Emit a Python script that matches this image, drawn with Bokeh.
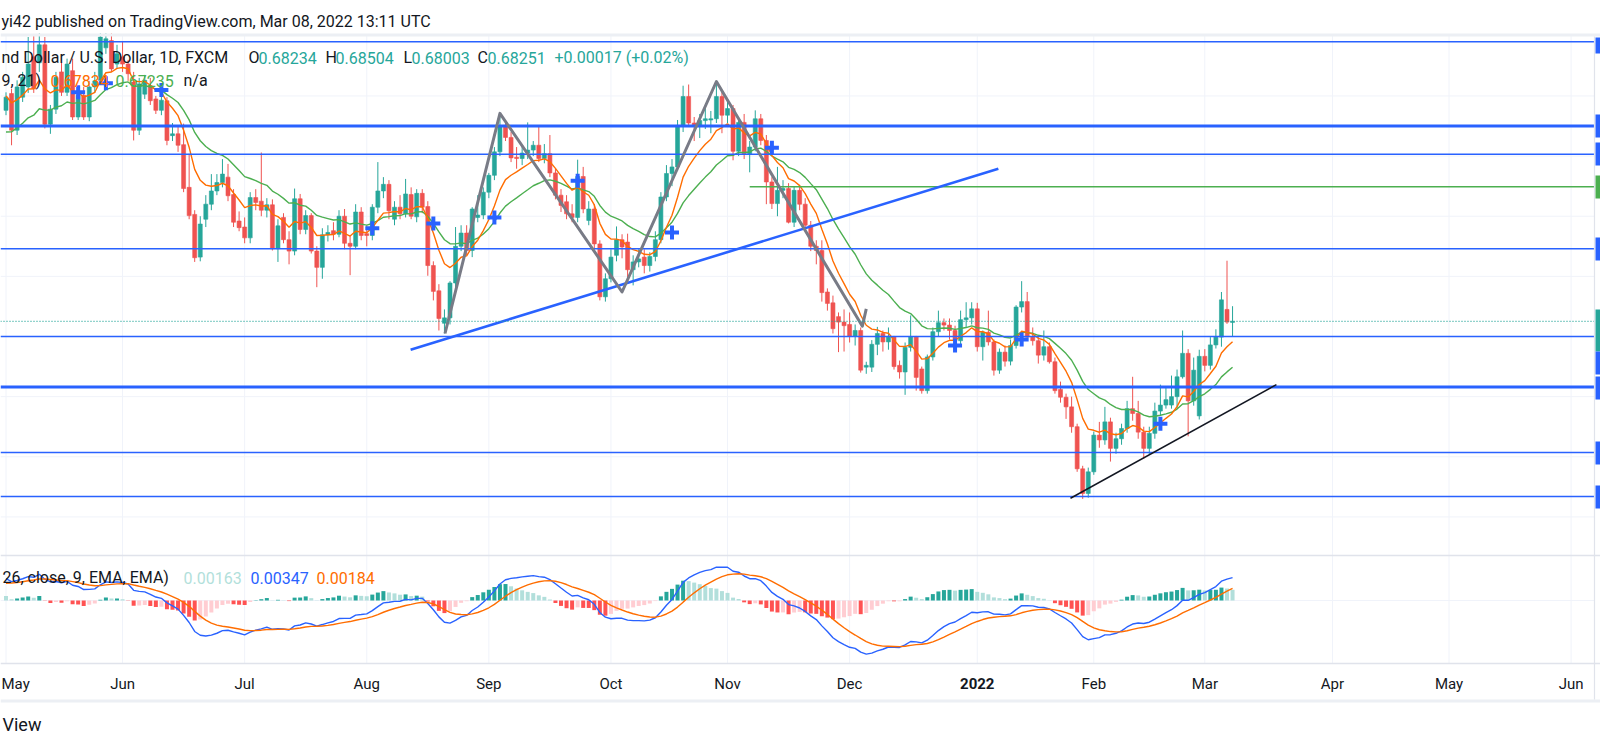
import numpy as np
import pandas as pd
from bokeh.plotting import figure
from bokeh.models import Range1d, ColumnDataSource
from bokeh.core.properties import value
from bokeh.embed import file_html
from bokeh.resources import INLINE

# ---------------- data: NZD/USD daily (FXCM) ----------------
first_day = "2021-05-03"
opens = [
    0.7176, 0.7204, 0.7143, 0.7198, 0.7215, 0.7265, 0.7255, 0.7285, 0.7153, 0.7178,
    0.7240, 0.7206, 0.7242, 0.7165, 0.7201, 0.7165, 0.7215, 0.7226, 0.7280, 0.7292,
    0.7253, 0.7265, 0.7253, 0.7223, 0.7143, 0.7203, 0.7217, 0.7195, 0.7176, 0.7192,
    0.7134, 0.7137, 0.7119, 0.7048, 0.7003, 0.6932, 0.6995, 0.7020, 0.7042, 0.7056,
    0.7065, 0.7036, 0.6992, 0.6982, 0.6964, 0.7031, 0.7025, 0.7010, 0.7019, 0.6946,
    0.6998, 0.6961, 0.6942, 0.7029, 0.6978, 0.7001, 0.6942, 0.6915, 0.6969, 0.6976,
    0.6970, 0.7000, 0.6955, 0.6950, 0.7007, 0.6971, 0.6968, 0.7015, 0.7042, 0.7053,
    0.6995, 0.7015, 0.7004, 0.7036, 0.6999, 0.7038, 0.7016, 0.6918, 0.6876, 0.6822,
    0.6831, 0.6889, 0.6950, 0.6972, 0.6943, 0.6998, 0.7002, 0.7040, 0.7068, 0.7107,
    0.7151, 0.7131, 0.7098, 0.7096, 0.7105, 0.7110, 0.7118, 0.7096, 0.7104, 0.7072,
    0.7035, 0.7024, 0.7004, 0.6998, 0.7066, 0.6993, 0.7012, 0.6954, 0.6866, 0.6896,
    0.6935, 0.6961, 0.6957, 0.6911, 0.6924, 0.6932, 0.6918, 0.6933, 0.6961, 0.7032,
    0.7071, 0.7082, 0.7151, 0.7199, 0.7155, 0.7151, 0.7159, 0.7160, 0.7162, 0.7199,
    0.7168, 0.7179, 0.7108, 0.7156, 0.7104, 0.7115, 0.7162, 0.7126, 0.7057, 0.7021,
    0.7043, 0.7046, 0.6990, 0.7043, 0.7020, 0.6985, 0.6950, 0.6943, 0.6874, 0.6856,
    0.6833, 0.6824, 0.6820, 0.6800, 0.6810, 0.6749, 0.6749, 0.6787, 0.6805, 0.6791,
    0.6799, 0.6752, 0.6741, 0.6782, 0.6799, 0.6746, 0.6710, 0.6766, 0.6808, 0.6823,
    0.6819, 0.6810, 0.6793, 0.6828, 0.6831, 0.6846, 0.6783, 0.6807, 0.6791, 0.6744,
    0.6774, 0.6759, 0.6785, 0.6849, 0.6858, 0.6799, 0.6793, 0.6769, 0.6783, 0.6758,
    0.6712, 0.6699, 0.6683, 0.6650, 0.6580, 0.6539, 0.6575, 0.6636, 0.6628, 0.6658,
    0.6614, 0.6630, 0.6647, 0.6680, 0.6672, 0.6641, 0.6614, 0.6639, 0.6676, 0.6686,
    0.6686, 0.6700, 0.6733, 0.6772, 0.6693, 0.6668, 0.6767, 0.6752, 0.6786, 0.6799,
    0.6845, 0.68234]
highs = [
    0.7206, 0.7212, 0.7226, 0.7240, 0.7298, 0.7300, 0.7305, 0.7298, 0.7185, 0.7240,
    0.7255, 0.7262, 0.7262, 0.7210, 0.7215, 0.7225, 0.7240, 0.7309, 0.7305, 0.7310,
    0.7285, 0.7290, 0.7260, 0.7240, 0.7230, 0.7235, 0.7230, 0.7200, 0.7220, 0.7198,
    0.7155, 0.7150, 0.7154, 0.7104, 0.7010, 0.7000, 0.7035, 0.7070, 0.7070, 0.7095,
    0.7087, 0.7045, 0.7008, 0.6998, 0.7040, 0.7045, 0.7106, 0.7030, 0.7028, 0.6995,
    0.7005, 0.6975, 0.7046, 0.7037, 0.7010, 0.7005, 0.6950, 0.6980, 0.6985, 0.6990,
    0.7010, 0.7012, 0.6968, 0.7020, 0.7015, 0.6985, 0.7020, 0.7090, 0.7065, 0.7060,
    0.7025, 0.7035, 0.7062, 0.7048, 0.7045, 0.7045, 0.7025, 0.6925, 0.6887, 0.6845,
    0.6892, 0.6982, 0.6985, 0.6985, 0.7015, 0.7035, 0.7048, 0.7072, 0.7115, 0.7171,
    0.7160, 0.7140, 0.7115, 0.7115, 0.7156, 0.7125, 0.7149, 0.7120, 0.7135, 0.7080,
    0.7045, 0.7035, 0.7020, 0.7094, 0.7082, 0.7025, 0.7020, 0.6960, 0.6905, 0.6945,
    0.6983, 0.6970, 0.6971, 0.6935, 0.6945, 0.6945, 0.6940, 0.6975, 0.7040, 0.7085,
    0.7095, 0.7160, 0.7217, 0.7219, 0.7165, 0.7170, 0.7180, 0.7175, 0.7224, 0.7210,
    0.7190, 0.7185, 0.7165, 0.7170, 0.7125, 0.7176, 0.7170, 0.7135, 0.7065, 0.7082,
    0.7060, 0.7055, 0.7050, 0.7052, 0.7030, 0.6992, 0.6960, 0.6960, 0.6880, 0.6868,
    0.6840, 0.6845, 0.6840, 0.6820, 0.6815, 0.6758, 0.6794, 0.6816, 0.6810, 0.6815,
    0.6801, 0.6760, 0.6790, 0.6835, 0.6801, 0.6750, 0.6770, 0.6815, 0.6843, 0.6830,
    0.6830, 0.6818, 0.6843, 0.6857, 0.6857, 0.6856, 0.6810, 0.6843, 0.6795, 0.6780,
    0.6785, 0.6795, 0.6852, 0.6892, 0.6874, 0.6815, 0.6800, 0.6810, 0.6790, 0.6765,
    0.6725, 0.6705, 0.6700, 0.6655, 0.6585, 0.6582, 0.6642, 0.6658, 0.6683, 0.6665,
    0.6640, 0.6655, 0.6693, 0.6733, 0.6693, 0.6650, 0.6650, 0.6690, 0.6720, 0.6715,
    0.6735, 0.6745, 0.6810, 0.6779, 0.6765, 0.6778, 0.6779, 0.6799, 0.6812, 0.6874,
    0.6926, 0.68504]
lows = [
    0.7168, 0.7118, 0.7135, 0.7190, 0.7205, 0.7205, 0.7240, 0.7146, 0.7137, 0.7170,
    0.7200, 0.7200, 0.7160, 0.7160, 0.7160, 0.7158, 0.7205, 0.7220, 0.7270, 0.7240,
    0.7245, 0.7240, 0.7225, 0.7126, 0.7135, 0.7195, 0.7185, 0.7170, 0.7168, 0.7118,
    0.7125, 0.7107, 0.7040, 0.6995, 0.6924, 0.6925, 0.6982, 0.7010, 0.7035, 0.7048,
    0.7025, 0.6982, 0.6975, 0.6955, 0.6955, 0.7010, 0.7000, 0.6998, 0.6943, 0.6924,
    0.6955, 0.6920, 0.6935, 0.6970, 0.6970, 0.6938, 0.6882, 0.6896, 0.6958, 0.6960,
    0.6965, 0.6945, 0.6902, 0.6945, 0.6960, 0.6950, 0.6960, 0.7005, 0.7030, 0.6995,
    0.6985, 0.6995, 0.6998, 0.6995, 0.6990, 0.7005, 0.6901, 0.6860, 0.6810, 0.6805,
    0.6820, 0.6882, 0.6942, 0.6935, 0.6932, 0.6990, 0.6995, 0.7030, 0.7060, 0.7100,
    0.7125, 0.7090, 0.7079, 0.7085, 0.7095, 0.7100, 0.7090, 0.7088, 0.7065, 0.7028,
    0.7007, 0.6995, 0.6990, 0.6990, 0.7005, 0.6985, 0.6945, 0.6860, 0.6858, 0.6890,
    0.6925, 0.6930, 0.6895, 0.6885, 0.6915, 0.6905, 0.6908, 0.6925, 0.6955, 0.7025,
    0.7050, 0.7075, 0.7140, 0.7150, 0.7125, 0.7130, 0.7145, 0.7138, 0.7155, 0.7138,
    0.7155, 0.7093, 0.7100, 0.7095, 0.7073, 0.7108, 0.7118, 0.7020, 0.7012, 0.7000,
    0.7030, 0.6988, 0.6982, 0.7010, 0.6975, 0.6942, 0.6920, 0.6858, 0.6843, 0.6805,
    0.6774, 0.6775, 0.6790, 0.6785, 0.6740, 0.6738, 0.6741, 0.6769, 0.6775, 0.6778,
    0.6745, 0.6730, 0.6703, 0.6775, 0.6710, 0.6705, 0.6705, 0.6760, 0.6800, 0.6810,
    0.6795, 0.6780, 0.6785, 0.6815, 0.6820, 0.6775, 0.6760, 0.6785, 0.6735, 0.6738,
    0.6750, 0.6752, 0.6780, 0.6840, 0.6795, 0.6785, 0.6755, 0.6760, 0.6755, 0.6705,
    0.6690, 0.6663, 0.6640, 0.6575, 0.6530, 0.6532, 0.6570, 0.6615, 0.6620, 0.6592,
    0.6605, 0.6620, 0.6640, 0.6660, 0.6630, 0.6597, 0.6604, 0.6630, 0.6668, 0.6680,
    0.6680, 0.6680, 0.6730, 0.6634, 0.6685, 0.6662, 0.6742, 0.6745, 0.6780, 0.6783,
    0.6821, 0.68003]
closes = [
    0.7198, 0.7143, 0.7215, 0.7231, 0.7253, 0.7212, 0.7285, 0.7153, 0.7178, 0.7231,
    0.7206, 0.7253, 0.7165, 0.7201, 0.7165, 0.7215, 0.7225, 0.7298, 0.7295, 0.7245,
    0.7270, 0.7253, 0.7237, 0.7143, 0.7220, 0.7226, 0.7192, 0.7176, 0.7193, 0.7126,
    0.7137, 0.7118, 0.7046, 0.7001, 0.6931, 0.6987, 0.7020, 0.7042, 0.7056, 0.7070,
    0.7034, 0.6990, 0.6981, 0.6964, 0.7031, 0.7023, 0.7010, 0.7019, 0.6946, 0.6984,
    0.6961, 0.6942, 0.7029, 0.6978, 0.7001, 0.6942, 0.6915, 0.6969, 0.6973, 0.6970,
    0.7000, 0.6955, 0.6950, 0.7007, 0.6968, 0.6968, 0.7015, 0.7042, 0.7053, 0.7009,
    0.7015, 0.7004, 0.7037, 0.7000, 0.7038, 0.7015, 0.6918, 0.6875, 0.6830, 0.6831,
    0.6889, 0.6950, 0.6972, 0.6943, 0.7012, 0.7002, 0.7040, 0.7068, 0.7107, 0.7149,
    0.7131, 0.7097, 0.7096, 0.7105, 0.7110, 0.7118, 0.7096, 0.7104, 0.7072, 0.7035,
    0.7018, 0.7004, 0.6998, 0.7066, 0.7012, 0.7012, 0.6954, 0.6866, 0.6896, 0.6932,
    0.6961, 0.6949, 0.6911, 0.6924, 0.6929, 0.6918, 0.6933, 0.6961, 0.7032, 0.7071,
    0.7082, 0.7151, 0.7199, 0.7155, 0.7151, 0.7159, 0.7162, 0.7162, 0.7199, 0.7168,
    0.7179, 0.7108, 0.7156, 0.7104, 0.7115, 0.7162, 0.7126, 0.7057, 0.7021, 0.7043,
    0.7046, 0.6990, 0.7043, 0.7020, 0.6985, 0.6950, 0.6943, 0.6873, 0.6855, 0.6813,
    0.6824, 0.6818, 0.6800, 0.6810, 0.6744, 0.6752, 0.6787, 0.6805, 0.6791, 0.6799,
    0.6750, 0.6741, 0.6782, 0.6799, 0.6732, 0.6710, 0.6766, 0.6808, 0.6823, 0.6819,
    0.6810, 0.6793, 0.6828, 0.6831, 0.6846, 0.6783, 0.6807, 0.6791, 0.6744, 0.6774,
    0.6759, 0.6785, 0.6849, 0.6858, 0.6799, 0.6793, 0.6769, 0.6783, 0.6758, 0.6710,
    0.6699, 0.6683, 0.6650, 0.6580, 0.6539, 0.6575, 0.6636, 0.6628, 0.6658, 0.6614,
    0.6630, 0.6647, 0.6680, 0.6672, 0.6641, 0.6614, 0.6639, 0.6676, 0.6686, 0.6695,
    0.6700, 0.6733, 0.6772, 0.6693, 0.6744, 0.6767, 0.6752, 0.6786, 0.6799, 0.6861,
    0.6824, 0.68251]

# indicator values at the first visible bar
ema_fast_start = 0.7200      # EMA 9 (orange)
ema_slow_start = 0.7140      # EMA 21 (green)
ema26_start = 0.7135
macd_start = 0.0033
signal_start = 0.0026

# EMA-cross markers (bar index, price)
cross_idx = [13, 18, 28, 66, 77, 88, 103, 120, 138, 171, 183, 208]
cross_price = [0.7206, 0.7221, 0.7210, 0.6980, 0.6988, 0.6998, 0.7059, 0.6973, 0.7114, 0.6785, 0.6795, 0.6655]

# drawings
thin_levels = [0.7290, 0.7103, 0.6946, 0.6800, 0.6607, 0.6534]
thick_levels = [0.7150, 0.6716]
green_level = 0.7049
green_level_start = 134
blue_trend_idx = [72.9, 178.8]
blue_trend_price = [0.6778, 0.7079]
black_trend_idx = [191.8, 228.9]
black_trend_price = [0.6531, 0.6720]
zigzag_idx = [79.1, 89.0, 111.0, 128.0, 154.3, 155.0]
zigzag_price = [0.6805, 0.7171, 0.6874, 0.7224, 0.6817, 0.6846]
last_price = 0.68251
price_grid = [0.65, 0.66, 0.67, 0.68, 0.69, 0.70, 0.71, 0.72]

# legend texts
header_text = "yi42 published on TradingView.com, Mar 08, 2022 13:11 UTC"
legend1 = ["nd Dollar / U.S. Dollar, 1D, FXCM", "O", "0.68234", "H", "0.68504", "L", "0.68003", "C", "0.68251", "+0.00017 (+0.02%)"]
legend2 = ["9, 21)", "0.67834", "0.67235", "n/a"]
legend3 = ["26, close, 9, EMA, EMA)", "0.00163", "0.00347", "0.00184"]

# ---------------- layout constants (picture pixels) ----------------
W, H = 1600, 747
BAR_PX, X0_PX = 5.55, 5.5
PRICE_REF, PRICE_Y, PX_PER_PRICE = 0.68, 336.0, 6014.0
MACD_ZERO_Y, PX_PER_MACD = 600.0, 6600.0
CHART_RIGHT = 1594

UP, DOWN = "#26a69a", "#ef5350"
BLUE, ORANGE, GREEN = "#2962ff", "#ff6d00", "#4caf50"
DARK, GRID, SEP = "#131722", "#f0f3fa", "#e0e3eb"
FONT = value("Roboto")

n = len(closes)
idx = np.arange(n)
dates = pd.bdate_range(first_day, "2022-06-30")
month_pos = [i for i in range(len(dates)) if i == 0 or dates[i].month != dates[i - 1].month]
month_lab = [str(dates[i].year) if dates[i].month == 1 else dates[i].strftime("%b") for i in month_pos]


def ema(series, length, start):
    a = 2.0 / (length + 1)
    out = [start]
    for v in series[1:]:
        out.append(a * v + (1 - a) * out[-1])
    return np.array(out)


c = np.array(closes)
ema9 = ema(c, 9, ema_fast_start)
ema21 = ema(c, 21, ema_slow_start)
macd = ema(c, 12, ema26_start + macd_start) - ema(c, 26, ema26_start)
signal = ema(macd, 9, signal_start)
hist = macd - signal
hist_col = []
for i, h in enumerate(hist):
    prev = hist[i - 1] if i > 0 else h
    if h >= 0:
        hist_col.append("#26a69a" if prev < h else "#b2dfdb")
    else:
        hist_col.append("#ffcdd2" if prev < h else "#ff5252")

p = figure(width=W, height=H, output_backend="svg", toolbar_location=None,
           x_range=Range1d(-X0_PX / BAR_PX, (W - X0_PX) / BAR_PX),
           y_range=Range1d(PRICE_REF - (H - PRICE_Y) / PX_PER_PRICE, PRICE_REF + PRICE_Y / PX_PER_PRICE),
           x_axis_location=None, y_axis_location=None, min_border=0)
p.outline_line_color = None
p.background_fill_color = "white"
p.border_fill_color = "white"
p.xgrid.visible = False
p.ygrid.visible = False
p.extra_x_ranges = {"px": Range1d(0, W)}
p.extra_y_ranges = {"py": Range1d(H, 0),
                    "macd": Range1d((MACD_ZERO_Y - H) / PX_PER_MACD, MACD_ZERO_Y / PX_PER_MACD)}

# grid
p.segment(x0=month_pos, x1=month_pos, y0=35, y1=663, y_range_name="py", line_color=GRID, line_width=1)
p.segment(x0=0, x1=CHART_RIGHT, y0=price_grid, y1=price_grid, x_range_name="px", line_color=GRID, line_width=1)
p.segment(x0=0, x1=CHART_RIGHT, y0=MACD_ZERO_Y, y1=MACD_ZERO_Y, x_range_name="px", y_range_name="py",
          line_color=GRID, line_width=1)

# candles
colors = [UP if cl >= op else DOWN for op, cl in zip(opens, closes)]
src = ColumnDataSource(dict(i=idx, o=opens, h=highs, l=lows, c=closes,
                            top=np.maximum(opens, closes), bot=np.minimum(opens, closes), col=colors))
p.segment(x0="i", x1="i", y0="l", y1="h", line_color="col", line_width=1, source=src)
p.vbar(x="i", width=0.72, top="top", bottom="bot", fill_color="col", line_color="col", line_width=0.6, source=src)

# EMAs and crosses
p.line(idx, ema21, line_color=GREEN, line_width=1.4)
p.line(idx, ema9, line_color=ORANGE, line_width=1.4)
p.scatter(cross_idx, cross_price, marker="cross", size=14, line_width=4, line_color=BLUE)

# drawings
p.segment(x0=0, x1=CHART_RIGHT, y0=thin_levels, y1=thin_levels, x_range_name="px", line_color=BLUE, line_width=1.5)
p.segment(x0=0, x1=CHART_RIGHT, y0=thick_levels, y1=thick_levels, x_range_name="px", line_color=BLUE, line_width=3)
p.segment(x0=green_level_start, x1=(CHART_RIGHT - X0_PX) / BAR_PX, y0=green_level, y1=green_level,
          line_color=GREEN, line_width=1.5)
p.line(blue_trend_idx, blue_trend_price, line_color=BLUE, line_width=2.6)
p.line(black_trend_idx, black_trend_price, line_color="#131722", line_width=1.5)
p.line(zigzag_idx, zigzag_price, line_color="#787b86", line_width=3, line_join="round")
p.segment(x0=0, x1=CHART_RIGHT, y0=last_price, y1=last_price, x_range_name="px",
          line_color=UP, line_width=1.2, line_dash="1 2")

# MACD pane
p.vbar(x=idx, width=0.72, top=hist, bottom=0, y_range_name="macd", fill_color=hist_col, line_color=None)
p.line(idx, macd, y_range_name="macd", line_color=BLUE, line_width=1.4)
p.line(idx, signal, y_range_name="macd", line_color=ORANGE, line_width=1.4)

# frame pieces
p.quad(left=0, right=W, top=0, bottom=33, x_range_name="px", y_range_name="py", fill_color="white", line_color=None)
p.quad(left=0, right=W, top=33, bottom=36, x_range_name="px", y_range_name="py", fill_color="#eceff4", line_color=None)
p.segment(x0=0, x1=W, y0=555, y1=555, x_range_name="px", y_range_name="py", line_color=SEP, line_width=1.5)
p.segment(x0=0, x1=W, y0=663, y1=663, x_range_name="px", y_range_name="py", line_color=SEP, line_width=1.5)
p.quad(left=0, right=W, top=699, bottom=702, x_range_name="px", y_range_name="py", fill_color="#eceff4", line_color=None)
p.segment(x0=CHART_RIGHT, x1=CHART_RIGHT, y0=36, y1=699, x_range_name="px", y_range_name="py", line_color=SEP, line_width=1.2)

# price-axis tabs (only their left edge is inside the picture)
tab_top = [37, 114, 142, 175, 237, 309, 351, 376, 441, 485]
tab_bot = [53, 137, 165, 198, 260, 351, 374, 399, 464, 508]
tab_col = [BLUE, BLUE, BLUE, GREEN, BLUE, UP, BLUE, BLUE, BLUE, BLUE]
p.quad(left=CHART_RIGHT + 1, right=W + 1, top=tab_top, bottom=tab_bot, x_range_name="px", y_range_name="py",
       fill_color=tab_col, line_color=None)

# texts
def texts(xs, ys, labels, cols, size="16px", style="normal", align="left", xr="px"):
    p.text(x=xs, y=ys, text=labels, text_color=cols, text_font=FONT, text_font_size=size,
           text_font_style=style, text_baseline="middle", text_align=align,
           x_range_name=xr, y_range_name="py")

texts([1], [21], [header_text], [DARK], size="16px")
texts([1, 248, 258, 325, 335, 403, 411, 477, 487, 554], [57] * 10, legend1,
      [DARK, DARK, UP, DARK, UP, DARK, UP, DARK, UP, UP])
texts([1, 50, 115, 183], [80] * 4, legend2, [DARK, ORANGE, GREEN, DARK])
texts([2, 183, 250, 316], [577] * 4, legend3, [DARK, "#b2dfdb", BLUE, ORANGE])

# month labels on the time scale (first one kept fully inside the picture)
first_lab = month_lab[0]
norm = [i for i, lab in enumerate(month_lab) if i > 0 and not lab.isdigit()]
bold = [i for i, lab in enumerate(month_lab) if lab.isdigit()]
texts([1], [683], [first_lab], [DARK], size="15px")
p.text(x=[month_pos[i] for i in norm], y=683, text=[month_lab[i] for i in norm], text_color=DARK,
       text_font=FONT, text_font_size="15px", text_baseline="middle", text_align="center", y_range_name="py")
p.text(x=[month_pos[i] for i in bold], y=683, text=[month_lab[i] for i in bold], text_color=DARK,
       text_font=FONT, text_font_size="15px", text_font_style="bold", text_baseline="middle",
       text_align="center", y_range_name="py")
texts([2], [724], ["View"], [DARK], size="18px")

open("out.html", "w").write(file_html(p, INLINE))
